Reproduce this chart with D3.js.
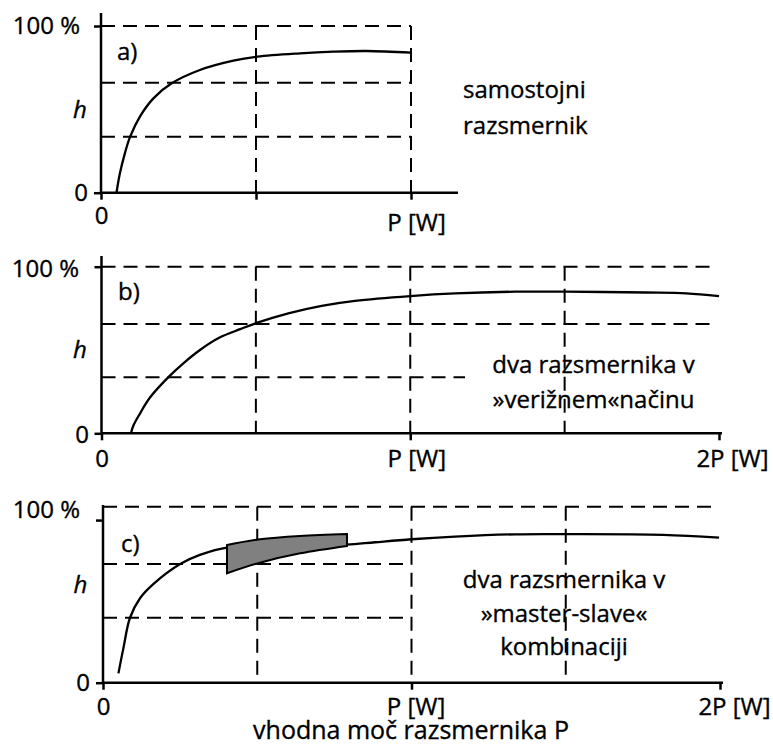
<!DOCTYPE html>
<html><head><meta charset="utf-8">
<script src="https://cdn.jsdelivr.net/npm/d3@7"></script>
<style>
body{margin:0;background:#fff}
svg text{font-family:"Open Sans",sans-serif;fill:#000;stroke:#000;stroke-width:0.35px}
</style>
</head><body>
<svg id="chart" width="773" height="745"></svg>
<script>
// ---------------- DATA ----------------
const xTickValues = [0, 1, 2];
const xTickLabels = ["0", "P [W]", "2P [W]"];
const yTickLabels = ["0", "100 %"];
const xTitle = "vhodna moč razsmernika P";
const yTitle = "h";

// panel a) single inverter
const effA_x = [0.05, 0.061, 0.077, 0.094, 0.126, 0.169, 0.228, 0.319, 0.427, 0.504, 0.642, 0.749, 0.857, 1.0];
const effA_y = [0, 11.6, 23.6, 33.6, 45.8, 56.6, 65.6, 73.6, 79.2, 81.6, 83.6, 84.6, 85.0, 84.0];
const refLevelsA = [100, 66, 33.5];
const gridXA = [0.5, 1];

// panel b) two inverters chained
const effB_x = [0.0955, 0.103, 0.125, 0.157, 0.216, 0.265, 0.319, 0.384, 0.449, 0.505, 0.605, 0.713, 0.821, 1.0, 1.145, 1.339, 1.502, 1.765, 1.894, 2.0];
const effB_y = [0, 4.5, 12, 21.5, 33.6, 42, 50, 57.6, 62.5, 66.4, 72, 76.5, 79.5, 82.4, 84, 85, 85, 84.5, 84, 82.4];
const refLevelsB = [100, 65.6, 33.6];
const gridXB = [0.5, 1, 1.5];

// panel c) master-slave
const effC_x = [0.05, 0.066, 0.0875, 0.12, 0.163, 0.25, 0.314, 0.406, 0.5, 0.65, 0.79, 0.882, 1.0, 1.141, 1.335, 1.502, 1.815, 1.997];
const effC_y = [5.3, 19.5, 36.9, 48, 56, 67.4, 72.6, 76.9, 77.4, 77.8, 78.4, 79.8, 81.5, 83, 84.3, 84.4, 84, 82.4];
const refLevelsC = [100, 67.4, 36.9];
const gridXC = [0.5, 1, 1.5];
const bandX = [0.402, 0.509, 0.639, 0.791];
const bandLow = [62.2, 68.2, 73.5, 77.7];
const bandHigh = [78.2, 81.5, 83.4, 84.5];

const panelNotes = [
  ["samostojni", "razsmernik"],
  ["dva razsmernika v", "»verižnem«načinu"],
  ["dva razsmernika v", "»master-slave«", "kombinaciji"]
];
const panelTags = ["a)", "b)", "c)"];

// ---------------- LAYOUT ----------------
const svg = d3.select("#chart");
const FS = 24;
const panels = [
  {xd:[0,1], xr:[101,411], yr:[192.7,26], xAxisEnd:458, yAxisTop:13,
   xs:effA_x, ys:effA_y, levels:refLevelsA, levelEnds:[411,411,411], gridX:gridXA,
   xticks:[0,0.5,1], xLabBase:{0:31.5,1:38}, xLabDx:{0:0,1:5},
   yticks:[0,100], yLabX:[-13,-21], yLabDy:[7.3,7],
   tag:[117,60], h:[80,118], note:{x:463, anchor:"start", ys:[98,134]}},
  {xd:[0,2], xr:[101.5,719], yr:[433.3,266.7], xAxisEnd:722, yAxisTop:256,
   xs:effB_x, ys:effB_y, levels:refLevelsB, levelEnds:[715,715,465], gridX:gridXB,
   xticks:[0,1,2], xLabBase:{0:34,1:34,2:34}, xLabDx:{0:0,1:6,2:13},
   yticks:[0,100], yLabX:[-12.5,-22.5], yLabDy:[8.7,9.3],
   tag:[118,300], h:[80,358], note:{x:593.5, anchor:"middle", ys:[373,408]}},
  {xd:[0,2], xr:[103,720], yr:[682.7,506.7], xAxisEnd:723, yAxisTop:505,
   xs:effC_x, ys:effC_y, levels:refLevelsC, levelEnds:[715,405,405], gridX:gridXC,
   xticks:[0,1,2], xLabBase:{0:32.5,1:32.5,2:32.5}, xLabDx:{0:0,1:4,2:14},
   yticks:[0,92.4], yLabX:[-13,-23], yLabDy:[7.3,-3],
   tag:[121,552], h:[80.5,593], note:{x:564, anchor:"middle", ys:[588,622,655]},
   band:true}
];

panels.forEach((p, pi) => {
  const x = d3.scaleLinear().domain(p.xd).range(p.xr);
  const y = d3.scaleLinear().domain([0,100]).range(p.yr);
  const g = svg.append("g");
  const x0 = x(0), y0 = y(0);

  // dashed reference lines
  p.levels.forEach((lv, i) => {
    g.append("line").attr("x1", x0).attr("x2", p.levelEnds[i])
      .attr("y1", y(lv)).attr("y2", y(lv))
      .attr("stroke", "#000").attr("stroke-width", 2).attr("stroke-dasharray", "14,8");
  });
  p.gridX.forEach(v => {
    g.append("line").attr("x1", x(v)).attr("x2", x(v))
      .attr("y1", y(100)).attr("y2", y0)
      .attr("stroke", "#000").attr("stroke-width", 2).attr("stroke-dasharray", "14,8");
  });

  // efficiency curve
  const pts = p.xs.map((v, i) => [v, p.ys[i]]);
  const line = d3.line().x(d => x(d[0])).y(d => y(d[1])).curve(d3.curveCatmullRom.alpha(0.5));
  g.append("path").attr("d", line(pts)).attr("fill", "none")
    .attr("stroke", "#000").attr("stroke-width", 2.3);

  // master-slave band
  if (p.band) {
    const bd = bandX.map((v, i) => ({x:v, lo:bandLow[i], hi:bandHigh[i]}));
    const area = d3.area().x(d => x(d.x)).y0(d => y(d.lo)).y1(d => y(d.hi)).curve(d3.curveCatmullRom.alpha(0.5));
    g.append("path").attr("d", area(bd)).attr("fill", "#808080")
      .attr("stroke", "#000").attr("stroke-width", 2).attr("stroke-linejoin", "miter");
  }

  // axes lines
  g.append("line").attr("x1", x0).attr("x2", p.xAxisEnd).attr("y1", y0).attr("y2", y0)
    .attr("stroke", "#000").attr("stroke-width", 2.5);
  g.append("line").attr("x1", x0).attr("x2", x0).attr("y1", p.yAxisTop).attr("y2", y0)
    .attr("stroke", "#000").attr("stroke-width", 2.5);

  // x axis ticks + labels
  const xLab = v => { const i = xTickValues.indexOf(v); return i >= 0 && v in p.xLabBase ? xTickLabels[i] : ""; };
  const xa = g.append("g").attr("transform", `translate(0,${y0})`)
    .call(d3.axisBottom(x).tickValues(p.xticks).tickSize(7).tickFormat(xLab));
  xa.select(".domain").remove();
  xa.selectAll(".tick line").attr("stroke", "#000").attr("stroke-width", 2.5);
  xa.selectAll(".tick text").attr("font-size", FS).attr("font-family", "Open Sans")
    .attr("dy", 0).attr("y", d => p.xLabBase[d] || 0).attr("dx", d => p.xLabDx[d] || 0).attr("fill", "#000");

  // y axis ticks + labels
  const ya = g.append("g").attr("transform", `translate(${x0},0)`)
    .call(d3.axisLeft(y).tickValues(p.yticks).tickSize(7).tickFormat((d, i) => yTickLabels[i]));
  ya.select(".domain").remove();
  ya.selectAll(".tick line").attr("stroke", "#000").attr("stroke-width", 2.5);
  ya.selectAll(".tick text").attr("font-size", FS).attr("font-family", "Open Sans")
    .attr("x", (d, i) => p.yLabX[i]).attr("dy", (d, i) => p.yLabDy[i]).attr("fill", "#000");

  // labels
  g.append("text").attr("x", p.tag[0]).attr("y", p.tag[1]).attr("font-size", FS).text(panelTags[pi]);
  g.append("text").attr("x", p.h[0]).attr("y", p.h[1]).attr("font-size", FS)
    .attr("font-style", "italic").attr("text-anchor", "middle").text(yTitle);
  panelNotes[pi].forEach((s, i) => {
    g.append("text").attr("x", p.note.x).attr("y", p.note.ys[i]).attr("font-size", FS)
      .attr("text-anchor", p.note.anchor).text(s);
  });
});

svg.append("text").attr("x", 411).attr("y", 739).attr("font-size", 25)
  .attr("text-anchor", "middle").text(xTitle);
</script>
</body></html>
